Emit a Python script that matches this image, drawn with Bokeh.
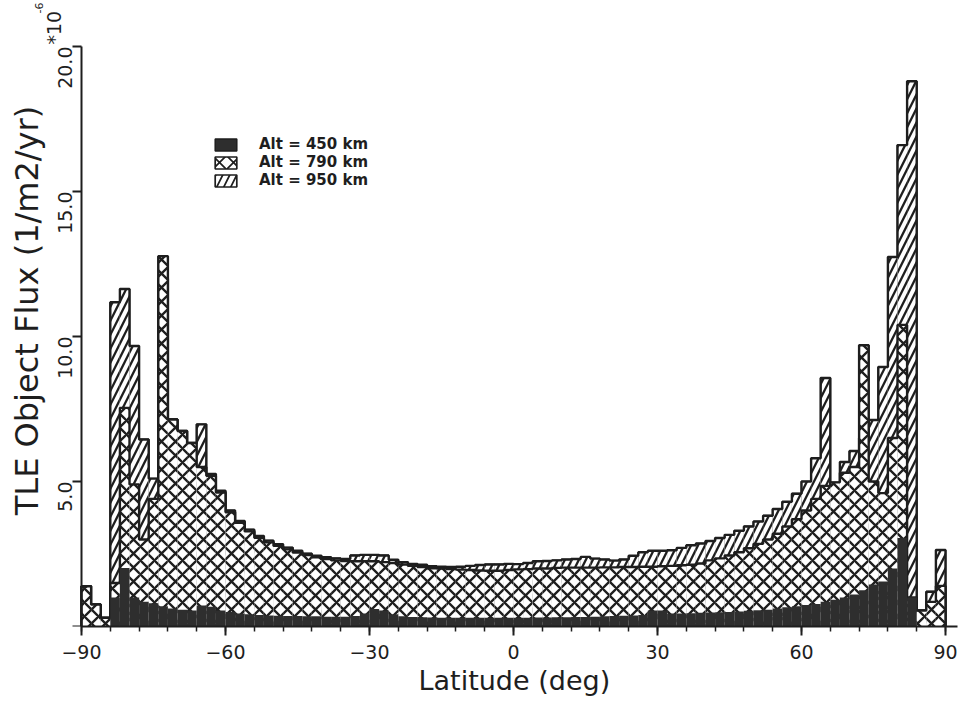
import math
from bokeh.plotting import figure
from bokeh.models import (ColumnDataSource, Range1d, FixedTicker, Legend, LegendItem, Label, Title)
from bokeh.embed import file_html
from bokeh.resources import INLINE

# ---- data (flux in units of 1e-6 objects / m^2 / yr), 2-degree latitude bins ----
lat_edges = list(range(-90, 92, 2))

flux_950 = [
    1.39, 0.76, 0.30, 11.18, 11.64, 9.67, 6.45, 5.10, 12.00, 7.14,
    6.74, 6.33, 6.97, 5.26, 4.68, 4.00, 3.64, 3.34, 3.12, 2.96,
    2.84, 2.72, 2.61, 2.51, 2.44, 2.39, 2.35, 2.33, 2.45, 2.47,
    2.47, 2.45, 2.30, 2.22, 2.16, 2.13, 2.08, 2.06, 2.05, 2.06,
    2.09, 2.12, 2.14, 2.14, 2.16, 2.15, 2.19, 2.25, 2.26, 2.28,
    2.31, 2.33, 2.40, 2.34, 2.31, 2.27, 2.31, 2.44, 2.56, 2.61,
    2.61, 2.63, 2.71, 2.80, 2.86, 2.95, 3.05, 3.16, 3.30, 3.45,
    3.62, 3.82, 4.05, 4.30, 4.58, 5.00, 5.80, 8.57, 4.90, 5.67,
    6.05, 6.50, 7.12, 8.95, 12.74, 16.60, 18.80, 0.55, 1.20, 2.64,
]

flux_790 = [
    1.39, 0.76, 0.30, 1.50, 7.54, 4.90, 3.00, 4.40, 12.77, 7.14,
    6.74, 6.33, 5.50, 5.20, 4.62, 3.94, 3.58, 3.28, 3.06, 2.90,
    2.78, 2.66, 2.55, 2.46, 2.39, 2.33, 2.28, 2.26, 2.25, 2.25,
    2.25, 2.22, 2.19, 2.14, 2.09, 2.05, 2.01, 2.00, 1.98, 1.96,
    1.95, 1.93, 1.92, 1.92, 1.95, 1.97, 1.98, 2.00, 2.00, 2.02,
    2.03, 2.03, 2.03, 2.03, 2.04, 2.04, 2.05, 2.05, 2.06, 2.06,
    2.08, 2.09, 2.11, 2.13, 2.17, 2.28, 2.35, 2.45, 2.56, 2.70,
    2.85, 3.00, 3.20, 3.45, 3.70, 4.00, 4.40, 4.85, 4.97, 5.30,
    5.50, 9.70, 5.00, 4.60, 6.50, 10.40, 1.00, 0.55, 0.85, 1.40,
]

flux_450 = [
    0.00, 0.00, 0.00, 1.00, 2.02, 1.00, 0.85, 0.80, 0.70, 0.62,
    0.58, 0.55, 0.72, 0.68, 0.55, 0.50, 0.45, 0.42, 0.40, 0.38,
    0.37, 0.36, 0.36, 0.35, 0.35, 0.34, 0.34, 0.34, 0.36, 0.45,
    0.60, 0.55, 0.42, 0.35, 0.33, 0.32, 0.31, 0.30, 0.30, 0.30,
    0.30, 0.30, 0.30, 0.30, 0.30, 0.30, 0.30, 0.31, 0.31, 0.32,
    0.32, 0.33, 0.33, 0.34, 0.35, 0.36, 0.37, 0.38, 0.40, 0.55,
    0.55, 0.45, 0.45, 0.46, 0.47, 0.48, 0.49, 0.50, 0.52, 0.54,
    0.56, 0.58, 0.62, 0.66, 0.70, 0.74, 0.78, 0.85, 0.92, 1.00,
    1.10, 1.25, 1.45, 1.55, 2.00, 3.05, 1.00, 0.00, 0.00, 0.00,
]

series_labels = ["Alt = 450 km", "Alt = 790 km", "Alt = 950 km"]
x_major = [-90, -60, -30, 0, 30, 60, 90]
x_minor = list(range(-90, 91, 6))
x_tick_text = ["\u221290", "\u221260", "\u221230", "0", "30", "60", "90"]
y_major = [0, 5, 10, 15, 20]
y_tick_text = ["0.0", "5.0", "10.0", "15.0", "20.0"]
x_title = "Latitude (deg)"
y_title = "TLE Object Flux (1/m2/yr)"
scale_base = "*10"
scale_exp = "-6"

INK = "#1e1e1e"
FILL450 = "#2e2e2e"
FONT = "DejaVu Sans"

left = lat_edges[:-1]
right = lat_edges[1:]

def bars(vals):
    return ColumnDataSource(dict(left=left, right=right, top=vals, bottom=[0] * len(vals)))

def outline(vals):
    return ColumnDataSource(dict(x=[lat_edges[0]] + left + [lat_edges[-1]],
                                 y=[0] + list(vals) + [0]))

# frame covers the whole canvas except the bottom axis panel; axes are bounded to the data area
p = figure(width=962, height=704, output_backend="svg", toolbar_location=None,
           x_range=Range1d(-106.875, 92.5), y_range=Range1d(0, 21.586),
           min_border_left=0, min_border_right=5, min_border_top=0, min_border_bottom=78)
p.outline_line_color = None
p.xgrid.visible = False
p.ygrid.visible = False
p.background_fill_color = "white"
p.border_fill_color = "white"

HS = 14
HW = 2.3
LW = 2.4

# legend swatch renderers: outlined versions of the same bars, drawn first and fully covered
l450 = p.quad(left="left", right="right", top="top", bottom="bottom", source=bars(flux_450),
              fill_color=FILL450, line_color=INK, line_width=1.5)
l790 = p.quad(left="left", right="right", top="top", bottom="bottom", source=bars(flux_790),
              fill_color="white", hatch_pattern="x", hatch_color=INK, hatch_weight=1.7,
              hatch_scale=14, line_color=INK, line_width=1.7)
l950 = p.quad(left="left", right="right", top="top", bottom="bottom", source=bars(flux_950),
              fill_color="white", hatch_pattern="/", hatch_color=INK, hatch_weight=1.7,
              hatch_scale=14, line_color=INK, line_width=1.7)

r950 = p.quad(left="left", right="right", top="top", bottom="bottom", source=bars(flux_950),
              fill_color="white", hatch_pattern="/", hatch_color=INK, hatch_weight=HW,
              hatch_scale=HS, line_color=None)
p.step(x="x", y="y", source=outline(flux_950), mode="after", line_color=INK, line_width=LW)

r790 = p.quad(left="left", right="right", top="top", bottom="bottom", source=bars(flux_790),
              fill_color="white", hatch_pattern="x", hatch_color=INK, hatch_weight=HW,
              hatch_scale=HS, line_color=None)
p.step(x="x", y="y", source=outline(flux_790), mode="after", line_color=INK, line_width=LW)

r450 = p.quad(left="left", right="right", top="top", bottom="bottom", source=bars(flux_450),
              fill_color=FILL450, line_color=None)

legend = Legend(items=[LegendItem(label=series_labels[0], renderers=[l450]),
                       LegendItem(label=series_labels[1], renderers=[l790]),
                       LegendItem(label=series_labels[2], renderers=[l950])],
                location=(212, 437), glyph_width=27, glyph_height=15, label_height=15,
                label_standoff=20, spacing=0, padding=0, margin=0,
                border_line_color=None, background_fill_alpha=0,
                label_text_font=FONT, label_text_font_size="15px",
                label_text_font_style="bold", label_text_color=INK)
p.add_layout(legend)

# axes
xa = p.xaxis[0]
xa.ticker = FixedTicker(ticks=x_major, minor_ticks=x_minor)
xa.major_label_overrides = {t: s for t, s in zip(x_major, x_tick_text)}
xa.bounds = (-90, 92.5)
ya = p.yaxis[0]
ya.ticker = FixedTicker(ticks=y_major, minor_ticks=[])
ya.major_label_overrides = {t: s for t, s in zip(y_major, y_tick_text)}
ya.major_label_orientation = math.pi / 2
ya.bounds = (0, 20)
ya.fixed_location = -90

for ax in (xa, ya):
    ax.axis_line_color = INK
    ax.axis_line_width = 2
    ax.major_tick_line_color = INK
    ax.major_tick_line_width = 2
    ax.major_tick_in = 0
    ax.major_tick_out = 9
    ax.minor_tick_line_color = INK
    ax.minor_tick_line_width = 1.5
    ax.minor_tick_in = 0
    ax.minor_tick_out = 5
    ax.major_label_text_font = FONT
    ax.major_label_text_font_size = "19px"
    ax.major_label_text_color = INK
xa.major_label_standoff = 9
ya.major_label_standoff = 7

# x title below the axis, left-aligned with an offset that centres it like the original
p.add_layout(Title(text=x_title, align="left", offset=418, standoff=2,
                   text_font=FONT, text_font_size="27px", text_font_style="normal",
                   text_color=INK), "below")

# y title and scale factor, placed relative to the y axis
p.add_layout(Label(x=-90, y=10, x_offset=-55, y_offset=26, text=y_title, angle=math.pi / 2,
                   text_font=FONT, text_font_size="32px", text_color=INK,
                   text_align="center", text_baseline="middle"))
p.add_layout(Label(x=-90, y=20, x_offset=-28, y_offset=2, text=scale_base,
                   angle=math.pi / 2, text_font=FONT, text_font_size="19px", text_color=INK,
                   text_baseline="middle", text_align="left"))
p.add_layout(Label(x=-90, y=20, x_offset=-43, y_offset=33, text=scale_exp,
                   angle=math.pi / 2, text_font=FONT, text_font_size="11px", text_color=INK,
                   text_baseline="middle", text_align="left"))

open("out.html", "w").write(file_html(p, INLINE))
